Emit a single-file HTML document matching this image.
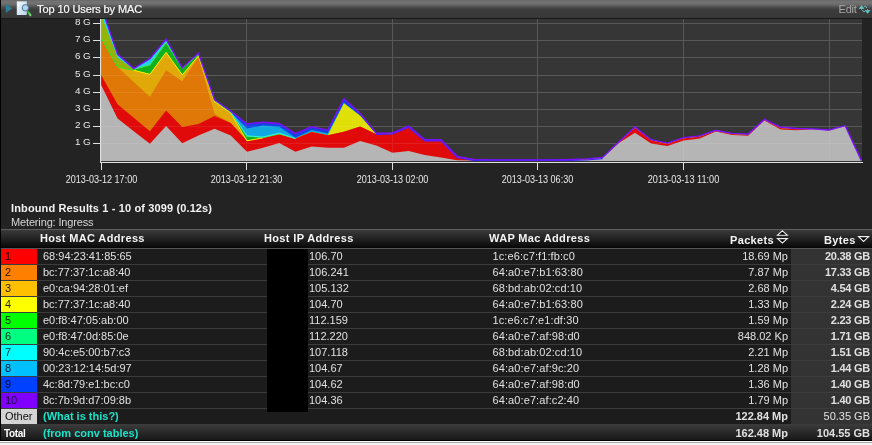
<!DOCTYPE html>
<html><head><meta charset="utf-8"><title>Top 10 Users by MAC</title>
<style>
*{box-sizing:border-box}
html,body{margin:0;padding:0}
body{width:872px;height:445px;overflow:hidden;position:relative;background:#232323;font-family:"Liberation Sans",Arial,sans-serif;color:#e0e0e0}
#lb{position:absolute;left:0;top:0;width:1px;height:441px;background:#000}
#hdr{position:absolute;left:0;top:0;width:872px;height:19px;background:linear-gradient(to bottom,#646464 0px,#737373 1px,#707070 4px,#464646 8px,#3b3b3b 10px,#383838 18px,#181818 18px,#181818 19px)}
#ttl{position:absolute;left:37px;top:2px;font-size:11px;line-height:14px;color:#fafafa;white-space:nowrap;letter-spacing:-0.1px;-webkit-text-stroke:0.2px #fafafa}
#edit{position:absolute;left:838.5px;top:2px;font-size:11px;line-height:14px;color:#a8a8a8;letter-spacing:-0.2px}
#chart{position:absolute;left:0;top:0}
#inb{position:absolute;left:11px;top:201px;font-size:11px;line-height:14px;font-weight:bold;color:#f2f2f2;white-space:nowrap;letter-spacing:0.13px}
#met{position:absolute;left:11px;top:215px;font-size:11px;line-height:14px;color:#d6d6d6;white-space:nowrap;letter-spacing:-0.15px}
#th{position:absolute;left:1px;top:229px;width:871px;height:20px;border-top:1px solid #5e5e5e;border-bottom:1px solid #555;background:linear-gradient(to bottom,#3a3a3a,#0a0a0a 17px,#050505 18px)}
#th div{position:absolute;top:1px;font-size:11px;line-height:14px;font-weight:bold;color:#f4f4f4;white-space:nowrap;letter-spacing:0.35px}
.row{position:absolute;left:1px;width:871px;height:16px;background:#1c1c1c;border-bottom:1px solid #3c3c3c}
.row div{position:absolute;top:0;height:15px;font-size:11px;line-height:15px;white-space:nowrap;color:#e0e0e0}
.row .cc{left:0;width:36px;padding-left:4px;color:rgba(0,0,0,0.85)}
.mac{left:42px}
.ip{left:308px}
.wap{left:491.5px;letter-spacing:0.1px}
.pk{right:84px;text-align:right}
.by{left:790px;width:81px;background:#333;text-align:right;padding-right:2px}
.b{font-weight:bold}
.row .by.b{letter-spacing:-0.25px}
#mask{position:absolute;left:267px;top:249px;width:41px;height:163px;background:#000}
#oth{position:absolute;left:1px;top:409px;width:871px;height:15px;background:#1c1c1c}
#oth div{position:absolute;top:0;font-size:11px;line-height:15px;white-space:nowrap;color:#e0e0e0}
#tot div{position:absolute;top:2px;font-size:11px;line-height:15px;white-space:nowrap;color:#e0e0e0}
#tot{position:absolute;left:1px;top:424px;width:871px;height:16px;background:linear-gradient(to bottom,#3c3c3c,#181818)}
#bot{position:absolute;left:0;top:440px;width:872px;height:5px;background:linear-gradient(to bottom,#000 0,#000 1px,#fafafa 1px,#fafafa 2px,#a8a8a8 2px,#a8a8a8 3px,#f2f2f2 3px)}
.cy{color:#1ae2c8!important;font-weight:bold}
</style></head><body>
<div id="hdr"></div>
<svg id="chart" width="872" height="200" viewBox="0 0 872 200">
<defs>
<clipPath id="lc"><rect x="0" y="19" width="100" height="150"/></clipPath>
<clipPath id="pc"><rect x="101" y="19" width="761" height="142"/></clipPath>
<linearGradient id="gg" gradientUnits="userSpaceOnUse" x1="101" x2="862" y1="0" y2="0">
<stop offset="0" stop-color="#94b408"/><stop offset="0.043" stop-color="#94b408"/><stop offset="0.043" stop-color="#10b01f"/><stop offset="1" stop-color="#10b01f"/>
</linearGradient>
</defs>
<rect x="101" y="19" width="761" height="143" fill="#363636"/>
<line x1="101" x2="862" y1="143.5" y2="143.5" stroke="#585858" stroke-width="1"/><line x1="101" x2="862" y1="126.5" y2="126.5" stroke="#585858" stroke-width="1"/><line x1="101" x2="862" y1="109.5" y2="109.5" stroke="#585858" stroke-width="1"/><line x1="101" x2="862" y1="92.5" y2="92.5" stroke="#585858" stroke-width="1"/><line x1="101" x2="862" y1="75.5" y2="75.5" stroke="#585858" stroke-width="1"/><line x1="101" x2="862" y1="57.5" y2="57.5" stroke="#585858" stroke-width="1"/><line x1="101" x2="862" y1="40.5" y2="40.5" stroke="#585858" stroke-width="1"/><line x1="101" x2="862" y1="23.5" y2="23.5" stroke="#585858" stroke-width="1"/><line x1="101.5" x2="101.5" y1="19" y2="161" stroke="#585858" stroke-width="1"/><line x1="246.5" x2="246.5" y1="19" y2="161" stroke="#585858" stroke-width="1"/><line x1="392.5" x2="392.5" y1="19" y2="161" stroke="#585858" stroke-width="1"/><line x1="537.5" x2="537.5" y1="19" y2="161" stroke="#585858" stroke-width="1"/><line x1="683.5" x2="683.5" y1="19" y2="161" stroke="#585858" stroke-width="1"/><line x1="829.5" x2="829.5" y1="19" y2="161" stroke="#585858" stroke-width="1"/>
<g clip-path="url(#pc)">
<path d="M100.6,7.50 L101.40,7.50 L117.57,54.10 L133.74,68.60 L149.91,58.70 L166.08,39.20 L182.25,67.90 L198.42,53.30 L214.59,99.70 L230.76,111.20 L246.93,123.80 L263.10,122.10 L279.27,123.30 L295.44,133.60 L311.61,126.70 L327.78,130.10 L343.95,98.50 L360.12,113.50 L376.29,133.20 L392.46,132.80 L408.63,126.00 L424.80,139.70 L440.97,139.70 L457.14,156.30 L473.31,159.30 L489.48,159.80 L505.65,159.80 L521.82,159.80 L537.99,159.80 L554.16,159.80 L570.33,159.50 L586.50,158.80 L602.67,157.40 L618.84,142.00 L635.01,127.00 L651.18,139.70 L667.35,143.10 L683.52,137.70 L699.69,135.90 L715.86,130.30 L732.03,133.30 L748.20,134.10 L764.37,119.40 L780.54,127.20 L796.71,128.50 L812.88,128.80 L829.05,130.00 L845.22,125.70 L861.39,160.60 L861.39,161.00 L845.22,161.00 L829.05,161.00 L812.88,161.00 L796.71,161.00 L780.54,161.00 L764.37,161.00 L748.20,161.00 L732.03,161.00 L715.86,161.00 L699.69,161.00 L683.52,161.00 L667.35,161.00 L651.18,161.00 L635.01,161.00 L618.84,161.00 L602.67,161.00 L586.50,161.00 L570.33,161.00 L554.16,161.00 L537.99,161.00 L521.82,161.00 L505.65,161.00 L489.48,161.00 L473.31,161.00 L457.14,161.00 L440.97,161.00 L424.80,161.00 L408.63,161.00 L392.46,161.00 L376.29,161.00 L360.12,161.00 L343.95,161.00 L327.78,161.00 L311.61,161.00 L295.44,161.00 L279.27,161.00 L263.10,161.00 L246.93,161.00 L230.76,161.00 L214.59,161.00 L198.42,161.00 L182.25,161.00 L166.08,161.00 L149.91,161.00 L133.74,161.00 L117.57,161.00 L101.40,161.00 L100.6,161.00 Z" fill="#6b17e1"/>
<path d="M100.6,7.80 L101.40,7.80 L117.57,55.20 L133.74,69.00 L149.91,59.30 L166.08,40.40 L182.25,68.20 L198.42,54.00 L214.59,100.00 L230.76,112.00 L246.93,124.40 L263.10,123.30 L279.27,124.50 L295.44,134.60 L311.61,127.70 L327.78,131.10 L343.95,99.50 L360.12,114.50 L376.29,134.20 L392.46,133.80 L408.63,127.80 L424.80,140.90 L440.97,140.90 L457.14,157.30 L473.31,160.00 L489.48,160.60 L505.65,160.60 L521.82,160.60 L537.99,160.60 L554.16,160.60 L570.33,160.30 L586.50,159.50 L602.67,157.40 L618.84,142.60 L635.01,127.90 L651.18,140.60 L667.35,144.00 L683.52,138.60 L699.69,136.80 L715.86,131.00 L732.03,134.20 L748.20,134.90 L764.37,120.00 L780.54,128.20 L796.71,129.30 L812.88,129.10 L829.05,130.30 L845.22,125.90 L861.39,160.60 L861.39,161.00 L845.22,161.00 L829.05,161.00 L812.88,161.00 L796.71,161.00 L780.54,161.00 L764.37,161.00 L748.20,161.00 L732.03,161.00 L715.86,161.00 L699.69,161.00 L683.52,161.00 L667.35,161.00 L651.18,161.00 L635.01,161.00 L618.84,161.00 L602.67,161.00 L586.50,161.00 L570.33,161.00 L554.16,161.00 L537.99,161.00 L521.82,161.00 L505.65,161.00 L489.48,161.00 L473.31,161.00 L457.14,161.00 L440.97,161.00 L424.80,161.00 L408.63,161.00 L392.46,161.00 L376.29,161.00 L360.12,161.00 L343.95,161.00 L327.78,161.00 L311.61,161.00 L295.44,161.00 L279.27,161.00 L263.10,161.00 L246.93,161.00 L230.76,161.00 L214.59,161.00 L198.42,161.00 L182.25,161.00 L166.08,161.00 L149.91,161.00 L133.74,161.00 L117.57,161.00 L101.40,161.00 L100.6,161.00 Z" fill="#1144e1"/>
<path d="M100.6,7.80 L101.40,7.80 L117.57,55.20 L133.74,69.00 L149.91,59.30 L166.08,40.40 L182.25,68.20 L198.42,54.00 L214.59,100.00 L230.76,112.00 L246.93,128.40 L263.10,125.50 L279.27,126.70 L295.44,137.80 L311.61,129.90 L327.78,133.30 L343.95,103.20 L360.12,115.80 L376.29,134.30 L392.46,133.80 L408.63,127.80 L424.80,140.90 L440.97,140.90 L457.14,157.30 L473.31,160.00 L489.48,160.60 L505.65,160.60 L521.82,160.60 L537.99,160.60 L554.16,160.60 L570.33,160.30 L586.50,159.50 L602.67,157.40 L618.84,142.60 L635.01,127.90 L651.18,140.60 L667.35,144.00 L683.52,138.60 L699.69,136.80 L715.86,131.00 L732.03,134.20 L748.20,134.90 L764.37,120.00 L780.54,128.20 L796.71,129.30 L812.88,129.10 L829.05,130.30 L845.22,125.90 L861.39,160.60 L861.39,161.00 L845.22,161.00 L829.05,161.00 L812.88,161.00 L796.71,161.00 L780.54,161.00 L764.37,161.00 L748.20,161.00 L732.03,161.00 L715.86,161.00 L699.69,161.00 L683.52,161.00 L667.35,161.00 L651.18,161.00 L635.01,161.00 L618.84,161.00 L602.67,161.00 L586.50,161.00 L570.33,161.00 L554.16,161.00 L537.99,161.00 L521.82,161.00 L505.65,161.00 L489.48,161.00 L473.31,161.00 L457.14,161.00 L440.97,161.00 L424.80,161.00 L408.63,161.00 L392.46,161.00 L376.29,161.00 L360.12,161.00 L343.95,161.00 L327.78,161.00 L311.61,161.00 L295.44,161.00 L279.27,161.00 L263.10,161.00 L246.93,161.00 L230.76,161.00 L214.59,161.00 L198.42,161.00 L182.25,161.00 L166.08,161.00 L149.91,161.00 L133.74,161.00 L117.57,161.00 L101.40,161.00 L100.6,161.00 Z" fill="#11a8e1"/>
<path d="M100.6,7.80 L101.40,7.80 L117.57,55.20 L133.74,69.00 L149.91,59.30 L166.08,40.40 L182.25,68.20 L198.42,54.00 L214.59,100.00 L230.76,112.00 L246.93,135.80 L263.10,137.00 L279.27,133.00 L295.44,138.60 L311.61,132.00 L327.78,135.20 L343.95,103.20 L360.12,115.80 L376.29,134.30 L392.46,133.80 L408.63,127.80 L424.80,140.90 L440.97,140.90 L457.14,157.30 L473.31,160.00 L489.48,160.60 L505.65,160.60 L521.82,160.60 L537.99,160.60 L554.16,160.60 L570.33,160.30 L586.50,159.50 L602.67,157.40 L618.84,142.60 L635.01,127.90 L651.18,140.60 L667.35,144.00 L683.52,138.60 L699.69,136.80 L715.86,131.00 L732.03,134.20 L748.20,134.90 L764.37,120.00 L780.54,128.20 L796.71,129.30 L812.88,129.10 L829.05,130.30 L845.22,125.90 L861.39,160.60 L861.39,161.00 L845.22,161.00 L829.05,161.00 L812.88,161.00 L796.71,161.00 L780.54,161.00 L764.37,161.00 L748.20,161.00 L732.03,161.00 L715.86,161.00 L699.69,161.00 L683.52,161.00 L667.35,161.00 L651.18,161.00 L635.01,161.00 L618.84,161.00 L602.67,161.00 L586.50,161.00 L570.33,161.00 L554.16,161.00 L537.99,161.00 L521.82,161.00 L505.65,161.00 L489.48,161.00 L473.31,161.00 L457.14,161.00 L440.97,161.00 L424.80,161.00 L408.63,161.00 L392.46,161.00 L376.29,161.00 L360.12,161.00 L343.95,161.00 L327.78,161.00 L311.61,161.00 L295.44,161.00 L279.27,161.00 L263.10,161.00 L246.93,161.00 L230.76,161.00 L214.59,161.00 L198.42,161.00 L182.25,161.00 L166.08,161.00 L149.91,161.00 L133.74,161.00 L117.57,161.00 L101.40,161.00 L100.6,161.00 Z" fill="#20d8e1"/>
<path d="M100.6,15.50 L101.40,15.50 L117.57,57.60 L133.74,69.50 L149.91,65.00 L166.08,42.70 L182.25,68.50 L198.42,54.20 L214.59,100.50 L230.76,112.30 L246.93,136.20 L263.10,137.50 L279.27,133.80 L295.44,138.60 L311.61,132.00 L327.78,135.20 L343.95,103.20 L360.12,115.80 L376.29,134.30 L392.46,133.80 L408.63,127.80 L424.80,140.90 L440.97,140.90 L457.14,157.30 L473.31,160.00 L489.48,160.60 L505.65,160.60 L521.82,160.60 L537.99,160.60 L554.16,160.60 L570.33,160.30 L586.50,159.50 L602.67,157.40 L618.84,142.60 L635.01,127.90 L651.18,140.60 L667.35,144.00 L683.52,138.60 L699.69,136.80 L715.86,131.00 L732.03,134.20 L748.20,134.90 L764.37,120.00 L780.54,128.20 L796.71,129.30 L812.88,129.10 L829.05,130.30 L845.22,125.90 L861.39,160.60 L861.39,161.00 L845.22,161.00 L829.05,161.00 L812.88,161.00 L796.71,161.00 L780.54,161.00 L764.37,161.00 L748.20,161.00 L732.03,161.00 L715.86,161.00 L699.69,161.00 L683.52,161.00 L667.35,161.00 L651.18,161.00 L635.01,161.00 L618.84,161.00 L602.67,161.00 L586.50,161.00 L570.33,161.00 L554.16,161.00 L537.99,161.00 L521.82,161.00 L505.65,161.00 L489.48,161.00 L473.31,161.00 L457.14,161.00 L440.97,161.00 L424.80,161.00 L408.63,161.00 L392.46,161.00 L376.29,161.00 L360.12,161.00 L343.95,161.00 L327.78,161.00 L311.61,161.00 L295.44,161.00 L279.27,161.00 L263.10,161.00 L246.93,161.00 L230.76,161.00 L214.59,161.00 L198.42,161.00 L182.25,161.00 L166.08,161.00 L149.91,161.00 L133.74,161.00 L117.57,161.00 L101.40,161.00 L100.6,161.00 Z" fill="url(#gg)"/>
<path d="M100.6,38.60 L101.40,38.60 L117.57,67.00 L133.74,70.30 L149.91,74.30 L166.08,52.40 L182.25,74.90 L198.42,56.00 L214.59,101.50 L230.76,113.00 L246.93,140.80 L263.10,137.90 L279.27,134.50 L295.44,138.60 L311.61,132.00 L327.78,135.20 L343.95,103.20 L360.12,115.80 L376.29,134.30 L392.46,133.80 L408.63,127.80 L424.80,140.90 L440.97,140.90 L457.14,157.30 L473.31,160.00 L489.48,160.60 L505.65,160.60 L521.82,160.60 L537.99,160.60 L554.16,160.60 L570.33,160.30 L586.50,159.50 L602.67,157.40 L618.84,142.60 L635.01,127.90 L651.18,140.60 L667.35,144.00 L683.52,138.60 L699.69,136.80 L715.86,131.00 L732.03,134.20 L748.20,134.90 L764.37,120.00 L780.54,128.20 L796.71,129.30 L812.88,129.10 L829.05,130.30 L845.22,125.90 L861.39,160.60 L861.39,161.00 L845.22,161.00 L829.05,161.00 L812.88,161.00 L796.71,161.00 L780.54,161.00 L764.37,161.00 L748.20,161.00 L732.03,161.00 L715.86,161.00 L699.69,161.00 L683.52,161.00 L667.35,161.00 L651.18,161.00 L635.01,161.00 L618.84,161.00 L602.67,161.00 L586.50,161.00 L570.33,161.00 L554.16,161.00 L537.99,161.00 L521.82,161.00 L505.65,161.00 L489.48,161.00 L473.31,161.00 L457.14,161.00 L440.97,161.00 L424.80,161.00 L408.63,161.00 L392.46,161.00 L376.29,161.00 L360.12,161.00 L343.95,161.00 L327.78,161.00 L311.61,161.00 L295.44,161.00 L279.27,161.00 L263.10,161.00 L246.93,161.00 L230.76,161.00 L214.59,161.00 L198.42,161.00 L182.25,161.00 L166.08,161.00 L149.91,161.00 L133.74,161.00 L117.57,161.00 L101.40,161.00 L100.6,161.00 Z" fill="#e0e008"/>
<path d="M100.6,38.60 L101.40,38.60 L117.57,67.00 L133.74,70.30 L149.91,74.30 L166.08,52.40 L182.25,74.90 L198.42,56.00 L214.59,101.50 L230.76,113.00 L246.93,140.80 L263.10,137.90 L279.27,134.50 L295.44,138.60 L311.61,132.00 L327.78,135.20 L343.95,131.80 L360.12,126.50 L376.29,134.30 L392.46,133.80 L408.63,127.80 L424.80,140.90 L440.97,140.90 L457.14,157.30 L473.31,160.00 L489.48,160.60 L505.65,160.60 L521.82,160.60 L537.99,160.60 L554.16,160.60 L570.33,160.30 L586.50,159.50 L602.67,157.40 L618.84,142.60 L635.01,127.90 L651.18,140.60 L667.35,144.00 L683.52,138.60 L699.69,136.80 L715.86,131.00 L732.03,134.20 L748.20,134.90 L764.37,120.00 L780.54,128.20 L796.71,129.30 L812.88,129.10 L829.05,130.30 L845.22,125.90 L861.39,160.60 L861.39,161.00 L845.22,161.00 L829.05,161.00 L812.88,161.00 L796.71,161.00 L780.54,161.00 L764.37,161.00 L748.20,161.00 L732.03,161.00 L715.86,161.00 L699.69,161.00 L683.52,161.00 L667.35,161.00 L651.18,161.00 L635.01,161.00 L618.84,161.00 L602.67,161.00 L586.50,161.00 L570.33,161.00 L554.16,161.00 L537.99,161.00 L521.82,161.00 L505.65,161.00 L489.48,161.00 L473.31,161.00 L457.14,161.00 L440.97,161.00 L424.80,161.00 L408.63,161.00 L392.46,161.00 L376.29,161.00 L360.12,161.00 L343.95,161.00 L327.78,161.00 L311.61,161.00 L295.44,161.00 L279.27,161.00 L263.10,161.00 L246.93,161.00 L230.76,161.00 L214.59,161.00 L198.42,161.00 L182.25,161.00 L166.08,161.00 L149.91,161.00 L133.74,161.00 L117.57,161.00 L101.40,161.00 L100.6,161.00 Z" fill="#e0a808"/>
<path d="M100.6,38.60 L101.40,38.60 L117.57,67.00 L133.74,82.10 L149.91,96.70 L166.08,70.30 L182.25,81.20 L198.42,57.00 L214.59,114.10 L230.76,123.00 L246.93,140.80 L263.10,137.90 L279.27,134.50 L295.44,138.60 L311.61,132.00 L327.78,135.20 L343.95,131.80 L360.12,126.50 L376.29,134.30 L392.46,133.80 L408.63,127.80 L424.80,140.90 L440.97,140.90 L457.14,157.30 L473.31,160.00 L489.48,160.60 L505.65,160.60 L521.82,160.60 L537.99,160.60 L554.16,160.60 L570.33,160.30 L586.50,159.50 L602.67,157.40 L618.84,142.60 L635.01,127.90 L651.18,140.60 L667.35,144.00 L683.52,138.60 L699.69,136.80 L715.86,131.00 L732.03,134.20 L748.20,134.90 L764.37,120.00 L780.54,128.20 L796.71,129.30 L812.88,129.10 L829.05,130.30 L845.22,125.90 L861.39,160.60 L861.39,161.00 L845.22,161.00 L829.05,161.00 L812.88,161.00 L796.71,161.00 L780.54,161.00 L764.37,161.00 L748.20,161.00 L732.03,161.00 L715.86,161.00 L699.69,161.00 L683.52,161.00 L667.35,161.00 L651.18,161.00 L635.01,161.00 L618.84,161.00 L602.67,161.00 L586.50,161.00 L570.33,161.00 L554.16,161.00 L537.99,161.00 L521.82,161.00 L505.65,161.00 L489.48,161.00 L473.31,161.00 L457.14,161.00 L440.97,161.00 L424.80,161.00 L408.63,161.00 L392.46,161.00 L376.29,161.00 L360.12,161.00 L343.95,161.00 L327.78,161.00 L311.61,161.00 L295.44,161.00 L279.27,161.00 L263.10,161.00 L246.93,161.00 L230.76,161.00 L214.59,161.00 L198.42,161.00 L182.25,161.00 L166.08,161.00 L149.91,161.00 L133.74,161.00 L117.57,161.00 L101.40,161.00 L100.6,161.00 Z" fill="#e07808"/>
<path d="M100.6,75.40 L101.40,75.40 L117.57,104.20 L133.74,117.70 L149.91,131.20 L166.08,110.50 L182.25,127.00 L198.42,124.00 L214.59,116.00 L230.76,123.00 L246.93,140.80 L263.10,137.90 L279.27,134.50 L295.44,138.60 L311.61,132.00 L327.78,135.20 L343.95,131.80 L360.12,126.50 L376.29,134.30 L392.46,133.80 L408.63,127.80 L424.80,140.90 L440.97,140.90 L457.14,157.30 L473.31,160.00 L489.48,160.60 L505.65,160.60 L521.82,160.60 L537.99,160.60 L554.16,160.60 L570.33,160.30 L586.50,159.50 L602.67,157.40 L618.84,142.60 L635.01,127.90 L651.18,140.60 L667.35,144.00 L683.52,138.60 L699.69,136.80 L715.86,131.00 L732.03,134.20 L748.20,134.90 L764.37,120.00 L780.54,128.20 L796.71,129.30 L812.88,129.10 L829.05,130.30 L845.22,125.90 L861.39,160.60 L861.39,161.00 L845.22,161.00 L829.05,161.00 L812.88,161.00 L796.71,161.00 L780.54,161.00 L764.37,161.00 L748.20,161.00 L732.03,161.00 L715.86,161.00 L699.69,161.00 L683.52,161.00 L667.35,161.00 L651.18,161.00 L635.01,161.00 L618.84,161.00 L602.67,161.00 L586.50,161.00 L570.33,161.00 L554.16,161.00 L537.99,161.00 L521.82,161.00 L505.65,161.00 L489.48,161.00 L473.31,161.00 L457.14,161.00 L440.97,161.00 L424.80,161.00 L408.63,161.00 L392.46,161.00 L376.29,161.00 L360.12,161.00 L343.95,161.00 L327.78,161.00 L311.61,161.00 L295.44,161.00 L279.27,161.00 L263.10,161.00 L246.93,161.00 L230.76,161.00 L214.59,161.00 L198.42,161.00 L182.25,161.00 L166.08,161.00 L149.91,161.00 L133.74,161.00 L117.57,161.00 L101.40,161.00 L100.6,161.00 Z" fill="#e00a0a"/>
<path d="M100.6,85.60 L101.40,85.60 L117.57,118.60 L133.74,131.20 L149.91,143.80 L166.08,126.10 L182.25,143.30 L198.42,135.60 L214.59,128.80 L230.76,135.60 L246.93,151.70 L263.10,147.70 L279.27,143.10 L295.44,151.70 L311.61,146.50 L327.78,147.70 L343.95,147.70 L360.12,141.10 L376.29,145.50 L392.46,152.80 L408.63,151.10 L424.80,155.10 L440.97,157.40 L457.14,160.30 L473.31,160.60 L489.48,160.60 L505.65,160.60 L521.82,160.60 L537.99,160.60 L554.16,160.60 L570.33,160.50 L586.50,159.70 L602.67,157.40 L618.84,143.10 L635.01,132.80 L651.18,143.40 L667.35,146.00 L683.52,140.50 L699.69,138.50 L715.86,131.60 L732.03,135.10 L748.20,135.80 L764.37,120.40 L780.54,129.50 L796.71,130.30 L812.88,129.20 L829.05,130.50 L845.22,126.00 L861.39,160.60 L861.39,161.00 L845.22,161.00 L829.05,161.00 L812.88,161.00 L796.71,161.00 L780.54,161.00 L764.37,161.00 L748.20,161.00 L732.03,161.00 L715.86,161.00 L699.69,161.00 L683.52,161.00 L667.35,161.00 L651.18,161.00 L635.01,161.00 L618.84,161.00 L602.67,161.00 L586.50,161.00 L570.33,161.00 L554.16,161.00 L537.99,161.00 L521.82,161.00 L505.65,161.00 L489.48,161.00 L473.31,161.00 L457.14,161.00 L440.97,161.00 L424.80,161.00 L408.63,161.00 L392.46,161.00 L376.29,161.00 L360.12,161.00 L343.95,161.00 L327.78,161.00 L311.61,161.00 L295.44,161.00 L279.27,161.00 L263.10,161.00 L246.93,161.00 L230.76,161.00 L214.59,161.00 L198.42,161.00 L182.25,161.00 L166.08,161.00 L149.91,161.00 L133.74,161.00 L117.57,161.00 L101.40,161.00 L100.6,161.00 Z" fill="#b5b5b5"/>
<clipPath id="fc"><path d="M100.6,7.50 L101.40,7.50 L117.57,54.10 L133.74,68.60 L149.91,58.70 L166.08,39.20 L182.25,67.90 L198.42,53.30 L214.59,99.70 L230.76,111.20 L246.93,123.80 L263.10,122.10 L279.27,123.30 L295.44,133.60 L311.61,126.70 L327.78,130.10 L343.95,98.50 L360.12,113.50 L376.29,133.20 L392.46,132.80 L408.63,126.00 L424.80,139.70 L440.97,139.70 L457.14,156.30 L473.31,159.30 L489.48,159.80 L505.65,159.80 L521.82,159.80 L537.99,159.80 L554.16,159.80 L570.33,159.50 L586.50,158.80 L602.67,157.40 L618.84,142.00 L635.01,127.00 L651.18,139.70 L667.35,143.10 L683.52,137.70 L699.69,135.90 L715.86,130.30 L732.03,133.30 L748.20,134.10 L764.37,119.40 L780.54,127.20 L796.71,128.50 L812.88,128.80 L829.05,130.00 L845.22,125.70 L861.39,160.60 L861.39,161.00 L845.22,161.00 L829.05,161.00 L812.88,161.00 L796.71,161.00 L780.54,161.00 L764.37,161.00 L748.20,161.00 L732.03,161.00 L715.86,161.00 L699.69,161.00 L683.52,161.00 L667.35,161.00 L651.18,161.00 L635.01,161.00 L618.84,161.00 L602.67,161.00 L586.50,161.00 L570.33,161.00 L554.16,161.00 L537.99,161.00 L521.82,161.00 L505.65,161.00 L489.48,161.00 L473.31,161.00 L457.14,161.00 L440.97,161.00 L424.80,161.00 L408.63,161.00 L392.46,161.00 L376.29,161.00 L360.12,161.00 L343.95,161.00 L327.78,161.00 L311.61,161.00 L295.44,161.00 L279.27,161.00 L263.10,161.00 L246.93,161.00 L230.76,161.00 L214.59,161.00 L198.42,161.00 L182.25,161.00 L166.08,161.00 L149.91,161.00 L133.74,161.00 L117.57,161.00 L101.40,161.00 L100.6,161.00 Z"/></clipPath>
<g clip-path="url(#fc)" style="mix-blend-mode:screen" opacity="0.08"><line x1="101" x2="862" y1="143.5" y2="143.5" stroke="#ffffff" stroke-width="1"/><line x1="101" x2="862" y1="126.5" y2="126.5" stroke="#ffffff" stroke-width="1"/><line x1="101" x2="862" y1="109.5" y2="109.5" stroke="#ffffff" stroke-width="1"/><line x1="101" x2="862" y1="92.5" y2="92.5" stroke="#ffffff" stroke-width="1"/><line x1="101" x2="862" y1="75.5" y2="75.5" stroke="#ffffff" stroke-width="1"/><line x1="101" x2="862" y1="57.5" y2="57.5" stroke="#ffffff" stroke-width="1"/><line x1="101" x2="862" y1="40.5" y2="40.5" stroke="#ffffff" stroke-width="1"/><line x1="101" x2="862" y1="23.5" y2="23.5" stroke="#ffffff" stroke-width="1"/><line x1="101.5" x2="101.5" y1="19" y2="161" stroke="#ffffff" stroke-width="1"/><line x1="246.5" x2="246.5" y1="19" y2="161" stroke="#ffffff" stroke-width="1"/><line x1="392.5" x2="392.5" y1="19" y2="161" stroke="#ffffff" stroke-width="1"/><line x1="537.5" x2="537.5" y1="19" y2="161" stroke="#ffffff" stroke-width="1"/><line x1="683.5" x2="683.5" y1="19" y2="161" stroke="#ffffff" stroke-width="1"/><line x1="829.5" x2="829.5" y1="19" y2="161" stroke="#ffffff" stroke-width="1"/></g>
<path d="M101.40,38.60 L117.57,67.00 L133.74,70.30" fill="none" stroke="#30e030" stroke-width="1.0"/><path d="M133.74,70.30 L149.91,74.30 L166.08,52.40 L182.25,74.90 L198.42,56.00 L214.59,101.50 L230.76,113.00 L246.93,140.80 L263.10,137.90" fill="none" stroke="#f4f000" stroke-width="1.0"/><path d="M133.74,69.50 L149.91,65.00 L166.08,42.70 L182.25,68.50 L198.42,54.20 L214.59,100.50 L230.76,112.30 L246.93,136.20 L263.10,137.50 L279.27,133.80 L295.44,138.60" fill="none" stroke="#48e048" stroke-width="1.0"/><path d="M230.76,112.00 L246.93,135.80 L263.10,137.00 L279.27,133.00 L295.44,138.60" fill="none" stroke="#30f0f0" stroke-width="0.9"/><path d="M376.29,134.40 L392.46,134.00 L408.63,127.20 L424.80,140.90 L440.97,140.90 L457.14,157.50 L473.31,160.40 L489.48,160.40 L505.65,160.40 L521.82,160.40 L537.99,160.40 L554.16,160.40 L570.33,160.40 L586.50,160.00 L602.67,158.60" fill="none" stroke="#3a28f8" stroke-width="1.2"/><path d="M101.4,7.5 L117.6,54.1 L133.7,68.6 L149.9,58.7 L166.1,39.2 L182.2,67.9 L198.4,53.3 L214.6,99.7 L230.8,111.2 L246.9,123.8 L263.1,122.1 L279.3,123.3 L295.4,133.6 L311.6,126.7 L327.8,130.1 L344.0,98.5 L360.1,113.5 L376.3,133.2 L392.5,132.8 L408.6,126.0 L424.8,139.7 L441.0,139.7 L457.1,156.3 L473.3,159.3 L489.5,159.8 L505.7,159.8 L521.8,159.8 L538.0,159.8 L554.2,159.8 L570.3,159.5 L586.5,158.8 L602.7,157.4 L618.8,142.0 L635.0,127.0 L651.2,139.7 L667.4,143.1 L683.5,137.7 L699.7,135.9 L715.9,130.3 L732.0,133.3 L748.2,134.1 L764.4,119.4 L780.5,127.2 L796.7,128.5 L812.9,128.8 L829.1,130.0 L845.2,125.7 L861.4,160.6" fill="none" stroke="#7a10ff" stroke-width="1.35" stroke-linejoin="miter"/>
</g>
<line x1="100.5" x2="100.5" y1="19" y2="162" stroke="#e0e0e0" stroke-width="1"/>
<line x1="100" x2="863" y1="162.5" y2="162.5" stroke="#e0e0e0" stroke-width="1"/>
<g clip-path="url(#lc)" font-family="Liberation Sans, Arial, sans-serif" font-size="9.9" fill="#e8e8e8"><line x1="93" x2="100" y1="143.5" y2="143.5" stroke="#e0e0e0" stroke-width="1"/><text x="90.8" y="145.0" text-anchor="end">1 G</text><line x1="93" x2="100" y1="126.5" y2="126.5" stroke="#e0e0e0" stroke-width="1"/><text x="90.8" y="128.0" text-anchor="end">2 G</text><line x1="93" x2="100" y1="109.5" y2="109.5" stroke="#e0e0e0" stroke-width="1"/><text x="90.8" y="111.0" text-anchor="end">3 G</text><line x1="93" x2="100" y1="92.5" y2="92.5" stroke="#e0e0e0" stroke-width="1"/><text x="90.8" y="94.0" text-anchor="end">4 G</text><line x1="93" x2="100" y1="75.5" y2="75.5" stroke="#e0e0e0" stroke-width="1"/><text x="90.8" y="77.0" text-anchor="end">5 G</text><line x1="93" x2="100" y1="57.5" y2="57.5" stroke="#e0e0e0" stroke-width="1"/><text x="90.8" y="59.0" text-anchor="end">6 G</text><line x1="93" x2="100" y1="40.5" y2="40.5" stroke="#e0e0e0" stroke-width="1"/><text x="90.8" y="42.0" text-anchor="end">7 G</text><line x1="93" x2="100" y1="23.5" y2="23.5" stroke="#e0e0e0" stroke-width="1"/><text x="90.8" y="25.0" text-anchor="end">8 G</text></g>
<g font-family="Liberation Sans, Arial, sans-serif" font-size="10.4" fill="#e8e8e8"><line x1="101.5" x2="101.5" y1="163" y2="170" stroke="#e0e0e0" stroke-width="1"/><text x="101.5" y="182.8" text-anchor="middle" textLength="71.5" lengthAdjust="spacingAndGlyphs">2013-03-12 17:00</text><line x1="246.5" x2="246.5" y1="163" y2="170" stroke="#e0e0e0" stroke-width="1"/><text x="246.5" y="182.8" text-anchor="middle" textLength="71.5" lengthAdjust="spacingAndGlyphs">2013-03-12 21:30</text><line x1="392.5" x2="392.5" y1="163" y2="170" stroke="#e0e0e0" stroke-width="1"/><text x="392.5" y="182.8" text-anchor="middle" textLength="71.5" lengthAdjust="spacingAndGlyphs">2013-03-13 02:00</text><line x1="537.5" x2="537.5" y1="163" y2="170" stroke="#e0e0e0" stroke-width="1"/><text x="537.5" y="182.8" text-anchor="middle" textLength="71.5" lengthAdjust="spacingAndGlyphs">2013-03-13 06:30</text><line x1="683.5" x2="683.5" y1="163" y2="170" stroke="#e0e0e0" stroke-width="1"/><text x="683.5" y="182.8" text-anchor="middle" textLength="71.5" lengthAdjust="spacingAndGlyphs">2013-03-13 11:00</text></g>
</svg>
<svg id="icons" width="872" height="19" viewBox="0 0 872 19" style="position:absolute;left:0;top:0">
<defs><linearGradient id="doc" x1="0" y1="0" x2="1" y2="1"><stop offset="0" stop-color="#f4faff"/><stop offset="1" stop-color="#b8d4ea"/></linearGradient>
<linearGradient id="hdl" x1="0" y1="0" x2="1" y2="1"><stop offset="0" stop-color="#30a030"/><stop offset="1" stop-color="#70e070"/></linearGradient></defs>
<polygon points="5.8,3.8 12.2,8.4 5.8,13" fill="#2a7f96"/>
<rect x="16.8" y="1.4" width="10" height="13.6" fill="url(#doc)"/>
<line x1="27.9" y1="11.6" x2="30.4" y2="15.2" stroke="url(#hdl)" stroke-width="2.2" stroke-linecap="round"/>
<circle cx="25.4" cy="7.8" r="3.2" fill="#b0d6ec" stroke="#4f6f8c" stroke-width="1"/>
<polygon points="861.6,5.3 864.6,8.9 862.5,8.7 861.6,9.9 860.7,8.7 858.6,8.9" fill="#62c6c6"/>
<rect x="862.2" y="10.1" width="1.1" height="1" fill="#62c6c6"/><rect x="863.2" y="11.1" width="1.8" height="1" fill="#62c6c6"/>
<polygon points="867.6,13.7 870.6,10.1 868.5,10.3 867.6,9.1 866.7,10.3 864.6,10.1" fill="#62c6c6"/>
<rect x="864.4" y="5.9" width="1.8" height="1" fill="#62c6c6"/><rect x="866" y="6.9" width="1.1" height="1" fill="#62c6c6"/>
</svg>
<div id="ttl">Top 10 Users by MAC</div>
<div id="edit">Edit</div>
<div id="inb">Inbound Results 1 - 10 of 3099 (0.12s)</div>
<div id="met">Metering: Ingress</div>
<div id="th">
<div style="left:39px">Host MAC Address</div>
<div style="left:263px">Host IP Address</div>
<div style="left:488px">WAP Mac Address</div>
<div style="left:729px;top:3px">Packets</div>
<div style="left:823px;top:3px">Bytes</div>
</div>
<svg width="872" height="20" viewBox="0 229 872 20" style="position:absolute;left:0;top:229px">
<polygon points="782.4,230.8 787.3,235.2 777.5,235.2" fill="#000" stroke="#f0f0f0" stroke-width="1.1"/>
<polygon points="777.5,238.6 787.3,238.6 782.4,243" fill="#000" stroke="#f0f0f0" stroke-width="1.1"/>
<polygon points="858.6,236.6 868.6,236.6 863.6,241.4" fill="#000" stroke="#f0f0f0" stroke-width="1.1"/>
</svg>
<div class="row" style="top:249px">
<div class="cc" style="background:#ff0000">1</div>
<div class="mac">68:94:23:41:85:65</div><div class="ip">106.70</div><div class="wap">1c:e6:c7:f1:fb:c0</div>
<div class="pk">18.69 Mp</div><div class="by b">20.38 GB</div></div>
<div class="row" style="top:265px">
<div class="cc" style="background:#ff8000">2</div>
<div class="mac">bc:77:37:1c:a8:40</div><div class="ip">106.241</div><div class="wap">64:a0:e7:b1:63:80</div>
<div class="pk">7.87 Mp</div><div class="by b">17.33 GB</div></div>
<div class="row" style="top:281px">
<div class="cc" style="background:#ffc000">3</div>
<div class="mac">e0:ca:94:28:01:ef</div><div class="ip">105.132</div><div class="wap">68:bd:ab:02:cd:10</div>
<div class="pk">2.68 Mp</div><div class="by b">4.54 GB</div></div>
<div class="row" style="top:297px">
<div class="cc" style="background:#ffff00">4</div>
<div class="mac">bc:77:37:1c:a8:40</div><div class="ip">104.70</div><div class="wap">64:a0:e7:b1:63:80</div>
<div class="pk">1.33 Mp</div><div class="by b">2.24 GB</div></div>
<div class="row" style="top:313px">
<div class="cc" style="background:#00ff00">5</div>
<div class="mac">e0:f8:47:05:ab:00</div><div class="ip">112.159</div><div class="wap">1c:e6:c7:e1:df:30</div>
<div class="pk">1.59 Mp</div><div class="by b">2.23 GB</div></div>
<div class="row" style="top:329px">
<div class="cc" style="background:#00ff80">6</div>
<div class="mac">e0:f8:47:0d:85:0e</div><div class="ip">112.220</div><div class="wap">64:a0:e7:af:98:d0</div>
<div class="pk">848.02 Kp</div><div class="by b">1.71 GB</div></div>
<div class="row" style="top:345px">
<div class="cc" style="background:#00ffff">7</div>
<div class="mac">90:4c:e5:00:b7:c3</div><div class="ip">107.118</div><div class="wap">68:bd:ab:02:cd:10</div>
<div class="pk">2.21 Mp</div><div class="by b">1.51 GB</div></div>
<div class="row" style="top:361px">
<div class="cc" style="background:#00c0ff">8</div>
<div class="mac">00:23:12:14:5d:97</div><div class="ip">104.67</div><div class="wap">64:a0:e7:af:9c:20</div>
<div class="pk">1.28 Mp</div><div class="by b">1.44 GB</div></div>
<div class="row" style="top:377px">
<div class="cc" style="background:#0040ff">9</div>
<div class="mac">4c:8d:79:e1:bc:c0</div><div class="ip">104.62</div><div class="wap">64:a0:e7:af:98:d0</div>
<div class="pk">1.36 Mp</div><div class="by b">1.40 GB</div></div>
<div class="row" style="top:393px">
<div class="cc" style="background:#8000ff">10</div>
<div class="mac">8c:7b:9d:d7:09:8b</div><div class="ip">104.36</div><div class="wap">64:a0:e7:af:c2:40</div>
<div class="pk">1.79 Mp</div><div class="by b">1.40 GB</div></div>

<div id="oth"><div style="left:0;width:36px;background:#d4d4d4;color:#111;padding-left:4px">Other</div>
<div class="cy" style="left:42px">(What is this?)</div>
<div class="b" style="right:84px">122.84 Mp</div>
<div style="left:790px;width:81px;background:#333;text-align:right;padding-right:2px">50.35 GB</div></div>
<div id="tot"><div class="b" style="left:3px;font-size:10px;color:#fff;letter-spacing:-0.35px">Total</div>
<div class="cy" style="left:42px">(from conv tables)</div>
<div class="b" style="right:84px">162.48 Mp</div>
<div class="b" style="right:2px">104.55 GB</div></div>
<div id="mask"></div>
<div id="bot"></div>
<div id="lb"></div>
</body></html>
